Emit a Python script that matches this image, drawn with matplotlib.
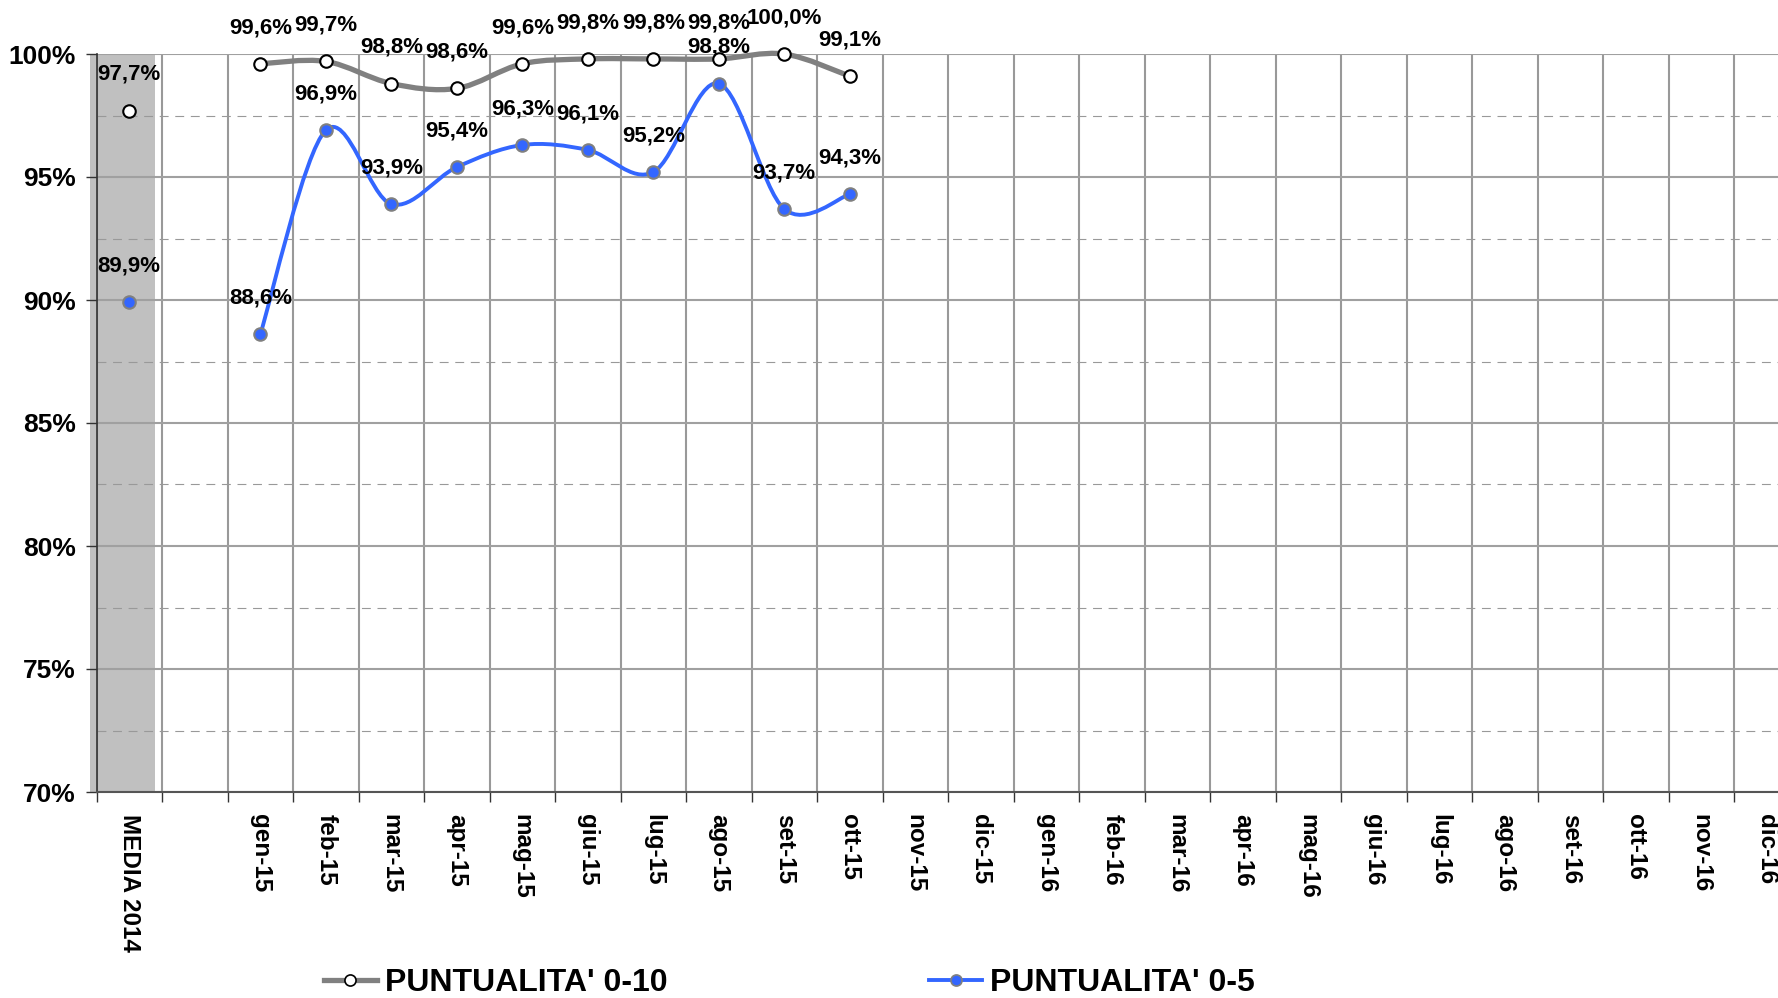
import numpy as np
import matplotlib
matplotlib.use("Agg")
import matplotlib.pyplot as plt
from matplotlib.path import Path
from matplotlib.patches import PathPatch
from matplotlib.lines import Line2D

plt.rcParams["font.family"] = ["Liberation Sans", "DejaVu Sans"]
plt.rcParams["font.weight"] = "bold"

# categories: media 2014, an empty slot, then months gen-15 .. dic-16
categories = ["MEDIA 2014", "",
              "gen-15", "feb-15", "mar-15", "apr-15", "mag-15", "giu-15",
              "lug-15", "ago-15", "set-15", "ott-15", "nov-15", "dic-15",
              "gen-16", "feb-16", "mar-16", "apr-16", "mag-16", "giu-16",
              "lug-16", "ago-16", "set-16", "ott-16", "nov-16", "dic-16"]

nan = np.nan
punt_0_10 = [97.7, nan, 99.6, 99.7, 98.8, 98.6, 99.6, 99.8, 99.8, 99.8, 100.0, 99.1] + [nan] * 14
punt_0_5 = [89.9, nan, 88.6, 96.9, 93.9, 95.4, 96.3, 96.1, 95.2, 98.8, 93.7, 94.3] + [nan] * 14
media_band = [100.0]  # shaded column for the 2014 average

y_min, y_max = 70, 100

GRAY = "#808080"
BLUE = "#3366FF"


def smooth_path(xs, ys):
    # Catmull-Rom style cubic bezier through the points (like Excel smoothed lines)
    pts = np.column_stack([xs, ys])
    n = len(pts)
    verts = [pts[0]]
    codes = [Path.MOVETO]
    for i in range(n - 1):
        p0 = pts[i - 1] if i > 0 else pts[i]
        p1 = pts[i]
        p2 = pts[i + 1]
        p3 = pts[i + 2] if i + 2 < n else pts[i + 1]
        c1 = p1 + (p2 - p0) / 6.0
        c2 = p2 - (p3 - p1) / 6.0
        verts += [c1, c2, p2]
        codes += [Path.CURVE4] * 3
    return Path(verts, codes)


def draw_series(ax, values, color, lw, z):
    x = np.arange(len(values))
    y = np.array(values, dtype=float)
    ok = ~np.isnan(y)
    # split into contiguous runs
    runs, cur = [], []
    for i in range(len(y)):
        if ok[i]:
            cur.append(i)
        elif cur:
            runs.append(cur)
            cur = []
    if cur:
        runs.append(cur)
    for r in runs:
        if len(r) > 1:
            p = PathPatch(smooth_path(x[r], y[r]), fill=False, edgecolor=color,
                          lw=lw, zorder=z, clip_on=False, capstyle="round",
                          joinstyle="round")
            ax.add_patch(p)


W, H = 1778, 998
fig = plt.figure(figsize=(W / 100, H / 100), dpi=100)
left, right, top, bottom = 96.5, 1799.5, 54, 792
ax = fig.add_axes([left / W, 1 - bottom / H, (right - left) / W, (bottom - top) / H])

x = np.arange(len(categories))

# shaded media column
ax.bar([-0.1], [media_band[0] - y_min], bottom=y_min, width=0.99, color="#C0C0C0",
       zorder=0, clip_on=False)

draw_series(ax, punt_0_10, GRAY, 3.8, 3)
draw_series(ax, punt_0_5, BLUE, 2.8, 4)

ax.plot(x, punt_0_10, linestyle="none", marker="o", ms=9, mfc="white", mec="black",
        mew=1.5, zorder=5, clip_on=False)
ax.plot(x, punt_0_5, linestyle="none", marker="o", ms=9, mfc=BLUE, mec=GRAY,
        mew=1.5, zorder=6, clip_on=False)

for series in (punt_0_10, punt_0_5):
    for xi, v in zip(x, series):
        if np.isnan(v):
            continue
        ax.annotate(f"{v:.1f}%".replace(".", ","), (xi, v), xytext=(0, 26),
                    textcoords="offset points", ha="center", va="center",
                    fontsize=16, fontweight="bold", zorder=7, annotation_clip=False)

ax.set_xlim(-0.5, len(categories) - 0.5)
ax.set_ylim(y_min, y_max)

# x: boundaries as major ticks (grid + tick marks), labels on minor ticks at centers
ax.set_xticks(np.arange(-0.5, len(categories), 1))
ax.set_xticklabels([])
ax.set_xticks(x, minor=True)
ax.set_xticklabels(categories, minor=True, rotation=-90, fontsize=17.5,
                   fontweight="bold", va="top", ha="center")
ax.tick_params(axis="x", which="major", length=7, width=1, color="#333333", direction="out")
ax.tick_params(axis="x", which="minor", length=0, pad=16)

yt = np.arange(y_min, y_max + 1, 5)
ax.set_yticks(yt)
ax.set_yticklabels([f"{v}%" for v in yt], fontsize=19, fontweight="bold")
ax.set_yticks(np.arange(y_min + 2.5, y_max, 5), minor=True)
ax.tick_params(axis="y", which="major", length=8, width=1, color="#333333", pad=7)
ax.tick_params(axis="y", which="minor", length=0)

ax.set_axisbelow(True)
ax.grid(axis="x", which="major", color="#999999", lw=1.5)
ax.grid(axis="y", which="major", color="#A0A0A0", lw=1.5)
ax.grid(axis="y", which="minor", color="#999999", lw=0.8, linestyle=(0, (8, 6)))

for s in ("top", "right"):
    ax.spines[s].set_visible(False)
ax.spines["left"].set_color("#333333")
ax.spines["left"].set_linewidth(1.2)
ax.spines["bottom"].set_color("#555555")
ax.spines["bottom"].set_linewidth(1.5)

handles = [
    Line2D([], [], color=GRAY, lw=3.8, marker="o", ms=8, mfc="white", mec="black", mew=1.2),
    Line2D([], [], color=BLUE, lw=2.8, marker="o", ms=8, mfc=BLUE, mec=GRAY, mew=1.2),
]
fig.legend(handles, ["PUNTUALITA' 0-10", "PUNTUALITA' 0-5"], loc="lower left",
           bbox_to_anchor=(324 / W, 0.0), ncol=2, frameon=False,
           prop={"size": 23, "weight": "bold"}, handlelength=1.65,
           handletextpad=0.25, columnspacing=8.2, borderpad=0, borderaxespad=0)

fig.savefig("out.png", dpi=100)
